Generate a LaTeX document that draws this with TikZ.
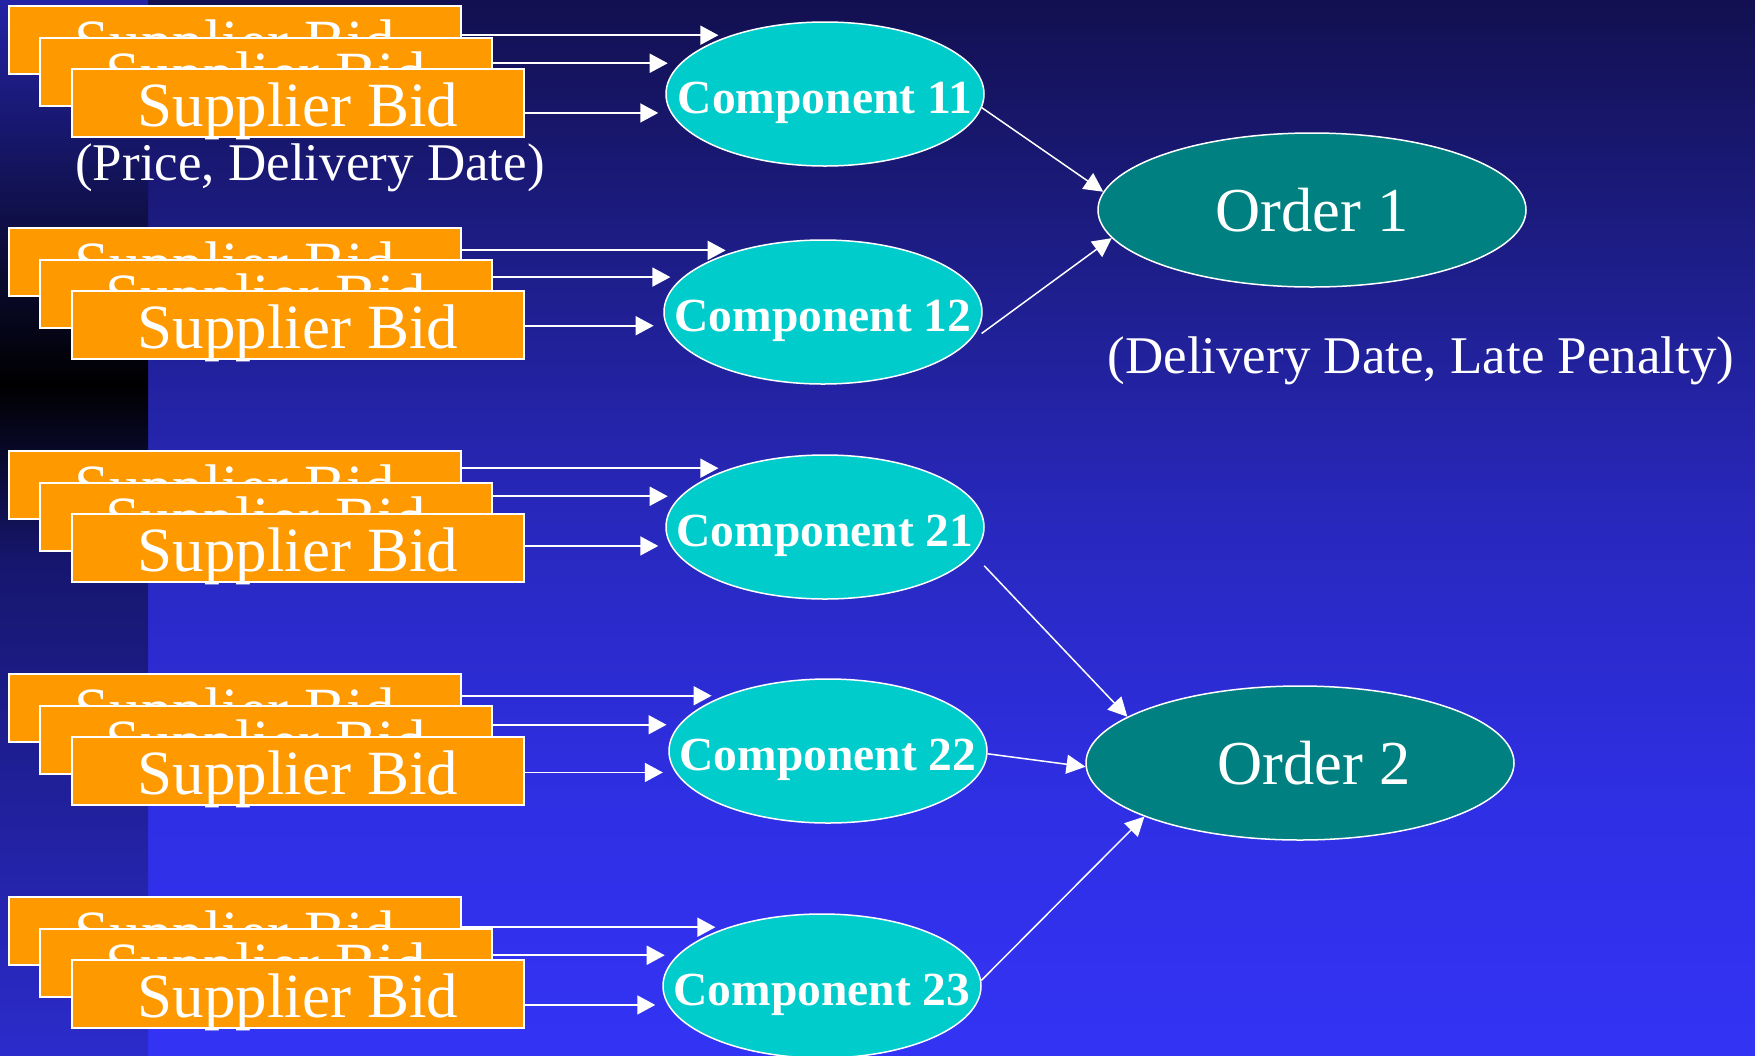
\documentclass[tikz,border=0pt]{standalone}
\usepackage{fontspec}
\setmainfont{Liberation Serif}
\usetikzlibrary{arrows.meta,shapes.geometric}

\definecolor{bidorange}{RGB}{255,153,0}
\definecolor{compcyan}{RGB}{0,204,204}
\definecolor{orderteal}{RGB}{0,128,128}

% background: navy at the top, bright blue at the bottom
\pgfdeclareverticalshading{mainbg}{100bp}{%
  rgb(0bp)=(0.2,0.2,0.96);
  rgb(25bp)=(0.2,0.2,0.96);
  rgb(37.09bp)=(0.184,0.184,0.894);
  rgb(50.07bp)=(0.157,0.157,0.745);
  rgb(61.73bp)=(0.118,0.118,0.549);
  rgb(75bp)=(0.071,0.063,0.314);
  rgb(100bp)=(0.071,0.063,0.314)}
% left band: blue at the top, black near the upper third, blue again below
\pgfdeclareverticalshading{stripbg}{100bp}{%
  rgb(0bp)=(0.17,0.17,0.8);
  rgb(25bp)=(0.17,0.17,0.8);
  rgb(48.46bp)=(0.086,0.086,0.43);
  rgb(56.75bp)=(0,0,0);
  rgb(75bp)=(0.137,0.137,0.647);
  rgb(100bp)=(0.137,0.137,0.647)}

\begin{document}
\begin{tikzpicture}[x=0.4pt,y=-0.4pt,
  bidbox/.style={rectangle, draw=white, line width=0.6pt, fill=bidorange,
    minimum width=180.8pt, minimum height=27.2pt, inner sep=0pt, outer sep=0pt},
  bidtext/.style={anchor=base, inner sep=0pt, text=white,
    font=\fontsize{25.2pt}{30pt}\selectfont},
  note/.style={anchor=base, inner sep=0pt, text=white,
    font=\fontsize{21.2pt}{25pt}\selectfont},
  comp/.style={ellipse, draw=white, line width=0.6pt, fill=compcyan,
    minimum width=127.2pt, minimum height=57.6pt, inner sep=0pt},
  comptext/.style={anchor=base, inner sep=0pt, text=white,
    font=\fontsize{19pt}{23pt}\selectfont\bfseries},
  order/.style={ellipse, draw=white, line width=0.6pt, fill=orderteal,
    minimum width=171.2pt, minimum height=61.6pt, inner sep=0pt},
  ordertext/.style={anchor=base, inner sep=0pt, text=white,
    font=\fontsize{25pt}{30pt}\selectfont},
  bidarr/.style={draw=white, line width=0.7pt, shorten >=5pt,
    -{Triangle[length=7.2pt,width=7.6pt]}},
  ordarr/.style={draw=white, line width=0.6pt,
    -{Triangle[length=7.6pt,width=7.6pt]}}]

\useasboundingbox (0,0) rectangle (1755,1055);
\shade[shading=mainbg] (0,0) rectangle (1755,1055);
\shade[shading=stripbg] (0,0) rectangle (148,1055);

% stacks of three supplier bids
\foreach \g/\T in {1/6,2/228,3/451,4/674,5/897} {
  \node[bidbox] (bA\g) at (235,\T+34) {};
  \node[bidtext] (tA\g) at ([yshift=4.4pt]bA\g.south) {Supplier Bid};
  \node[bidbox] (bB\g) at (266,\T+66) {};
  \node[bidtext] (tB\g) at ([yshift=4.4pt]bB\g.south) {Supplier Bid};
  \node[bidbox] (bC\g) at (298,\T+97) {};
  \node[bidtext] (tC\g) at ([yshift=4.4pt]bC\g.south) {Supplier Bid};
}
\node[note] (pricenote) at (310,180) {(Price, Delivery Date)};

% components
\node[comp] (c11) at (825,94) {};
\node[comp] (c12) at (823,312) {};
\node[comp] (c21) at (825,527) {};
\node[comp] (c22) at (828,751) {};
\node[comp] (c23) at (822,986) {};
\node[comptext] (tc11) at ([yshift=-7.6pt]c11.center) {Component 11};
\node[comptext] (tc12) at ([yshift=-7.6pt]c12.center) {Component 12};
\node[comptext] (tc21) at ([yshift=-7.6pt]c21.center) {Component 21};
\node[comptext] (tc22) at ([yshift=-7.6pt]c22.center) {Component 22};
\node[comptext] (tc23) at ([yshift=-7.6pt]c23.center) {Component 23};

% orders
\node[order] (o1) at (1312,210) {};
\node[order] (o2) at (1300,763) {};
\node[ordertext] (to1) at ([yshift=-8.4pt]o1.center) {Order 1};
\node[ordertext] (to2) at ([xshift=5.6pt,yshift=-8.4pt]o2.center) {Order 2};
\node[note] (penaltynote) at (1421,373) {(Delivery Date, Late Penalty)};

% bids feed their component (angles pick the height on the ellipse)
\foreach \g/\c/\ea/\eb/\ec in {1/c11/148/168/187, 2/c12/144/166/185,
    3/c21/148/168/187, 4/c22/152/170/188, 5/c23/148/168/187} {
  \draw[bidarr] (\c.\ea -| bA\g.east) -- (\c.\ea);
  \draw[bidarr] (\c.\eb -| bB\g.east) -- (\c.\eb);
  \draw[bidarr] (\c.\ec -| bC\g.east) -- (\c.\ec);
}

% components feed their order
\draw[ordarr] (c11.-5) -- (o1.175);
\draw[ordarr] ([xshift=2.4pt]c12.-8) -- (o1.188);
\draw[ordarr] ([xshift=9.6pt]c21.-16) -- (o2.165);
\draw[ordarr] (c22.-1) -- (o2.181);
\draw[ordarr] (c23.2) -- (o2.199);
\end{tikzpicture}
\end{document}
